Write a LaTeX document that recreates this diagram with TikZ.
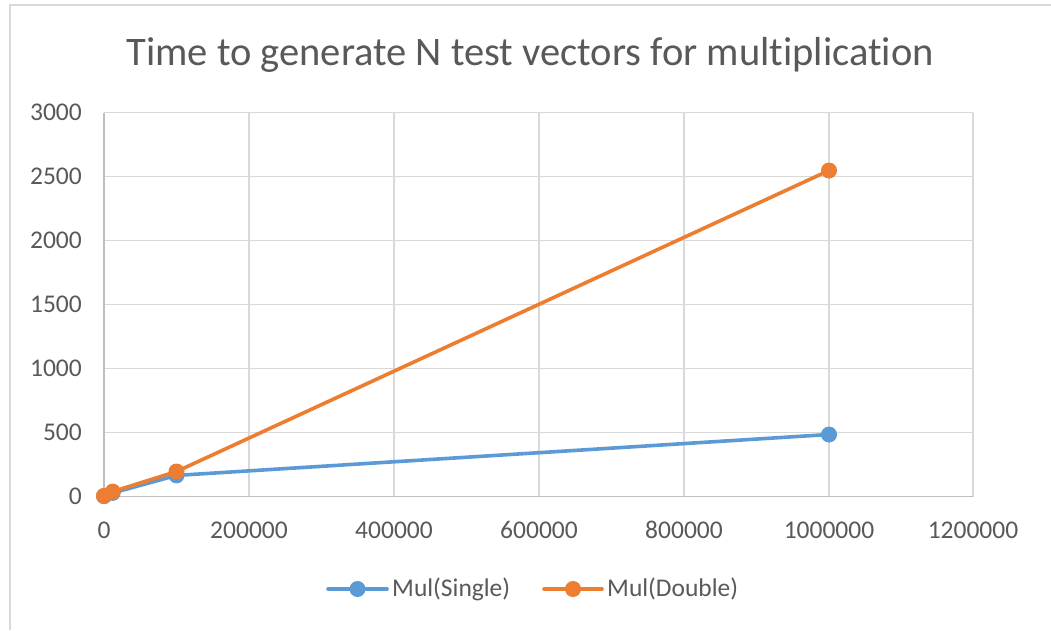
\documentclass[tikz,border=0pt]{standalone}
\usepackage{fontspec}
\setmainfont{Carlito}[Ligatures={NoCommon}]
\definecolor{txtgray}{HTML}{595959}
\definecolor{gridgray}{HTML}{D9D9D9}
\definecolor{axisgray}{HTML}{BFBFBF}
\definecolor{frame}{HTML}{D9D9D9}
\definecolor{serblue}{HTML}{5B9BD5}
\definecolor{serorange}{HTML}{ED7D31}
\tikzset{
  gridline/.style={draw=gridgray, line width=1.3pt},
  axisline/.style={draw=axisgray, line width=1.3pt},
  ticklabel/.style={text=txtgray, font=\fontsize{25.5}{28}\selectfont, inner sep=0pt},
  serline/.style={line width=3.6pt, line join=round, line cap=round},
  marker/.style={circle, fill=#1, inner sep=0pt, minimum size=16pt},
}
\begin{document}
\begin{tikzpicture}[x=1pt,y=-1pt]
\useasboundingbox (0,0) rectangle (1051,630);
\fill[white] (0,0) rectangle (1051,630);
% chart frame (top and left edges)
\draw[frame, line width=2pt] (1051,5) -- (10,5) -- (10,630);

% title
\node[text=txtgray, font=\fontsize{40.5}{44}\selectfont, inner sep=0pt] (title) at (530,55) {Time to generate N test vectors for multiplication};

% horizontal gridlines and value labels
\foreach \v/\yy in {500/432.5,1000/368.5,1500/304.5,2000/240.5,2500/176.5,3000/112.5}{
  \draw[gridline] (104,\yy) -- (973,\yy);
  \node[ticklabel, anchor=east] at (82,\yy) {\v};
}
% vertical gridlines and category labels
\foreach \v/\xx in {200000/249,400000/394,600000/539,800000/684,1000000/829,1200000/973}{
  \draw[gridline] (\xx,112.5) -- (\xx,496.5);
  \node[ticklabel] at (\xx,530) {\v};
}
\node[ticklabel, anchor=east] at (82,496.5) {0};
\node[ticklabel] at (104,530) {0};
% axes
\draw[axisline] (104,112.5) -- (104,496.5) -- (973,496.5);

% data points, Mul(Single)
\coordinate (s0) at (104,496.1);
\coordinate (s1) at (112.7,492.9);
\coordinate (s2) at (176.5,475.4);
\coordinate (s3) at (829,434.5);
% data points, Mul(Double)
\coordinate (d0) at (104,495.9);
\coordinate (d1) at (112.7,491.6);
\coordinate (d2) at (176.5,471.5);
\coordinate (d3) at (829,170.5);

\draw[serline, serblue] (s0) -- (s1) -- (s2) -- (s3);
\foreach \p in {s0,s1,s2,s3}{\node[marker=serblue] at (\p) {};}
\draw[serline, serorange] (d0) -- (d1) -- (d2) -- (d3);
\foreach \p in {d0,d1,d2,d3}{\node[marker=serorange] at (\p) {};}

% legend
\coordinate (lb1) at (328,589);
\coordinate (lb2) at (387,589);
\draw[serline, serblue] (lb1) -- (lb2);
\node[marker=serblue] (lbm) at (357.5,589) {};
\node[ticklabel, anchor=west] (lbt) at (392,589) {Mul(Single)};
\coordinate (lo1) at (544,589);
\coordinate (lo2) at (602,589);
\draw[serline, serorange] (lo1) -- (lo2);
\node[marker=serorange] (lom) at (573,589) {};
\node[ticklabel, anchor=west] (lot) at (607,589) {Mul(Double)};
\end{tikzpicture}
\end{document}
